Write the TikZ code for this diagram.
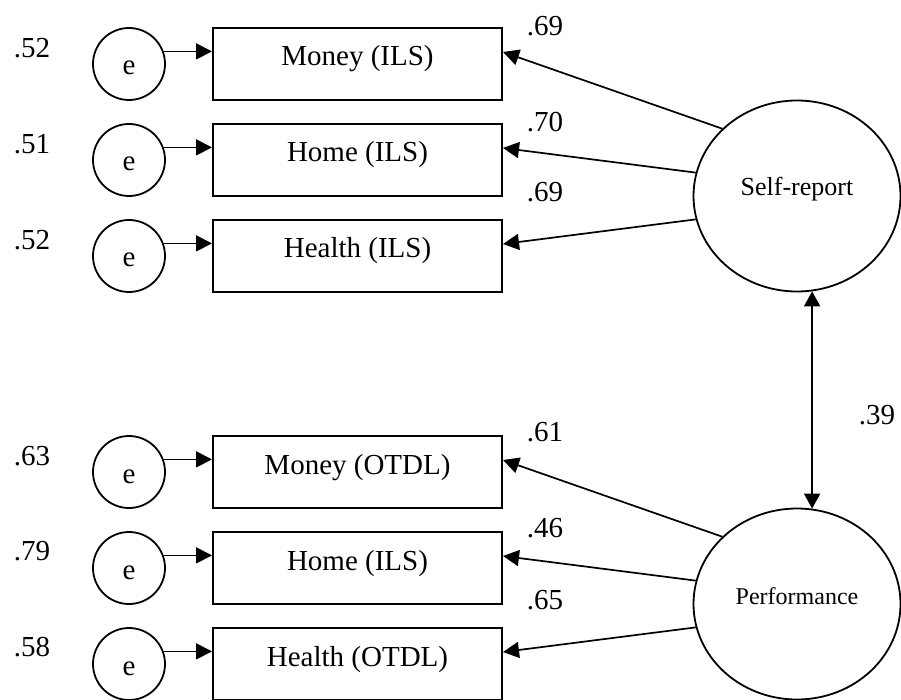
\documentclass[tikz,border=0pt]{standalone}
\usepackage{fontspec}
\setmainfont{Liberation Serif}
\usetikzlibrary{arrows.meta,shapes.geometric}

\tikzset{
  indbox/.style={draw, line width=2pt, minimum width=289pt, minimum height=72pt,
    inner sep=0pt, text height=12pt, text depth=8pt, font=\fontsize{29}{32}\selectfont},
  errcirc/.style={draw, circle, line width=1.8pt, minimum size=72pt, inner sep=0pt,
    text height=22pt, text depth=0pt, font=\fontsize{29}{32}\selectfont},
  latent/.style={draw, ellipse, line width=1.8pt, minimum width=207pt, minimum height=191pt,
    inner sep=0pt, text height=8pt, text depth=8pt},
  coef/.style={font=\fontsize{29}{32}\selectfont, inner sep=0pt},
  arr/.style={-{Triangle[length=16pt,width=16pt]}, line width=1.7pt},
  arrtwo/.style={{Triangle[length=15pt,width=16pt]}-{Triangle[length=15pt,width=16pt]}, line width=1.7pt}
}

\begin{document}
\begin{tikzpicture}[x=1pt, y=-1pt]
  \useasboundingbox (0,0) rectangle (901,700);

  % Latent factors
  \node[latent, font=\fontsize{26}{28}\selectfont] (sr) at (797,196) {Self-report};
  \node[latent, font=\fontsize{24}{26}\selectfont] (pf) at (797,604) {Performance};

  % Self-report indicators
  \node[indbox] (m1) at (357.5,64) {Money (ILS)};
  \node[indbox] (m2) at (357.5,160) {Home (ILS)};
  \node[indbox] (m3) at (357.5,256) {Health (ILS)};

  % Performance indicators
  \node[indbox] (m4) at (357.5,472) {Money (OTDL)};
  \node[indbox] (m5) at (357.5,568) {Home (ILS)};
  \node[indbox] (m6) at (357.5,664) {Health (OTDL)};

  % Error terms
  \node[errcirc] (e1) at (129,64) {e};
  \node[errcirc] (e2) at (129,160) {e};
  \node[errcirc] (e3) at (129,256) {e};
  \node[errcirc] (e4) at (129,472) {e};
  \node[errcirc] (e5) at (129,568) {e};
  \node[errcirc] (e6) at (129,664) {e};

  % Error arrows
  \foreach \i in {1,...,6}
    \draw[arr] (e\i.20) -- (e\i.20 -| m\i.west);

  % Loadings
  \draw[arr] (sr.138) -- ([yshift=12pt]m1.east);
  \draw[arr] (sr.167) -- ([yshift=12pt]m2.east);
  \draw[arr] (sr.193) -- ([yshift=12pt]m3.east);
  \draw[arr] (pf.138) -- ([yshift=12pt]m4.east);
  \draw[arr] (pf.167) -- ([yshift=12pt]m5.east);
  \draw[arr] (pf.193) -- ([yshift=12pt]m6.east);

  % Correlation
  \draw[arrtwo] (sr.-81) -- (pf.81);

  % Error variances
  \node[coef] (v1) at (32,48) {.52};
  \node[coef] (v2) at (32,144) {.51};
  \node[coef] (v3) at (32,240) {.52};
  \node[coef] (v4) at (32,456) {.63};
  \node[coef] (v5) at (32,551) {.79};
  \node[coef] (v6) at (32,647) {.58};

  % Loading values
  \node[coef] (l1) at (545,26) {.69};
  \node[coef] (l2) at (545,122) {.70};
  \node[coef] (l3) at (545,192) {.69};
  \node[coef] (l4) at (545,432) {.61};
  \node[coef] (l5) at (545,528) {.46};
  \node[coef] (l6) at (545,600) {.65};
  \node[coef] (r1) at (877,415) {.39};
\end{tikzpicture}
\end{document}
